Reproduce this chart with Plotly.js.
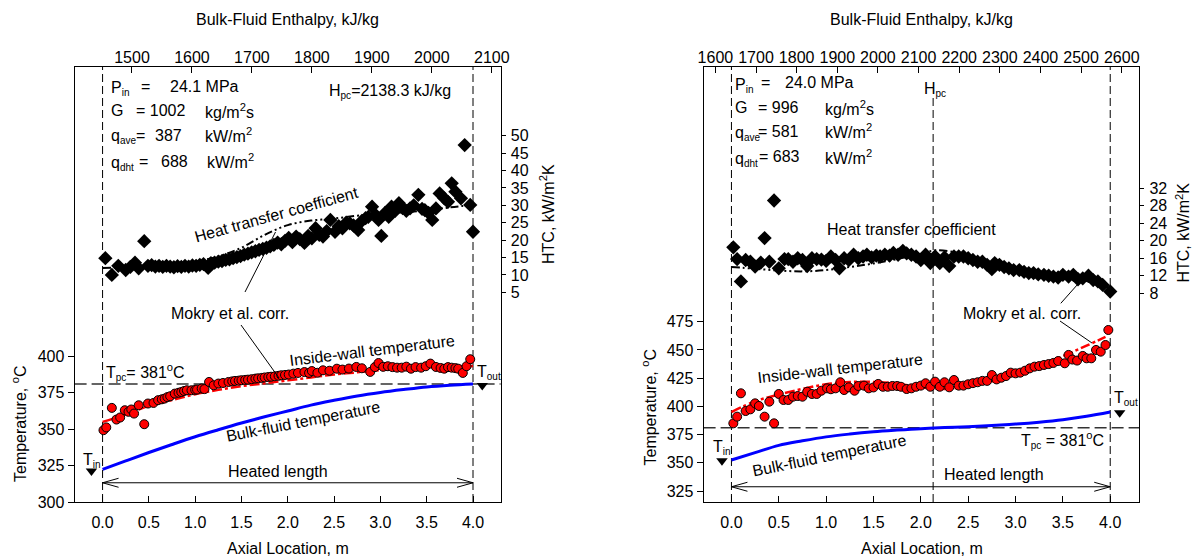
<!DOCTYPE html>
<html>
<head>
<meta charset="utf-8">
<script src="https://cdn.plot.ly/plotly-3.0.1.min.js"></script>
<style>html,body{margin:0;padding:0;background:#fff;}#chart{width:1197px;height:559px;}</style>
</head>
<body>
<div id="chart"></div>
<script>
// ---------------- DATA ----------------
// Left panel (P_in = 24.1 MPa, G = 1002)
const htcXL = [0.03,0.10,0.17,0.25,0.30,0.35,0.39,0.45,0.49,0.53,
  0.57,0.61,0.65,0.69,0.73,0.77,0.81,0.85,0.89,0.93,
  0.97,1.01,1.05,1.09,1.14,1.17,1.21,1.25,1.29,1.33,
  1.37,1.41,1.45,1.49,1.53,1.57,1.61,1.65,1.69,1.73,
  1.77,1.81,1.85,1.89,1.93,1.97,2.01,2.05,2.09,2.13,
  2.18,2.22,2.26,2.30,2.34,2.38,2.42,2.46,2.51,2.55,
  2.59,2.63,2.67,2.71,2.76,2.80,2.84,2.87,2.91,2.95,
  2.98,3.01,3.05,3.09,3.12,3.16,3.20,3.24,3.28,3.32,
  3.36,3.41,3.45,3.48,3.52,3.56,3.60,3.64,3.69,3.73,
  3.77,3.81,3.87,3.91,3.97,4.00];
const htcL = [14.8,10.0,12.6,11.4,12.3,13.5,11.9,19.7,12.6,12.8,
  12.4,12.6,12.3,12.6,12.4,12.2,12.5,12.3,12.6,12.4,
  12.7,12.6,12.9,13.1,12.0,13.4,13.5,13.8,14.0,14.3,
  14.5,14.8,15.1,15.4,15.8,16.1,16.5,16.8,17.2,17.5,
  17.8,18.2,18.6,19.3,18.8,19.8,20.6,19.4,21.0,20.3,
  19.2,21.2,20.5,23.4,21.5,21.0,22.6,25.8,22.4,24.0,
  23.4,25.0,24.8,24.2,22.9,25.5,26.3,26.7,29.6,27.2,
  25.8,21.2,27.8,26.7,29.6,28.4,30.6,29.2,28.4,29.1,
  30.0,33.0,29.0,28.6,27.8,25.8,29.1,33.4,32.0,31.0,
  36.3,33.9,32.0,47.3,30.1,22.4];
const wallXL = [0.01,0.04,0.10,0.15,0.19,0.24,0.28,0.31,0.34,0.39,
  0.45,0.49,0.55,0.60,0.64,0.67,0.70,0.73,0.78,0.82,
  0.85,0.88,0.91,0.96,1.00,1.02,1.07,1.10,1.15,1.20,
  1.25,1.30,1.36,1.40,1.43,1.47,1.50,1.54,1.57,1.61,
  1.65,1.68,1.72,1.75,1.79,1.82,1.86,1.90,1.93,1.97,
  2.01,2.06,2.11,2.18,2.23,2.26,2.32,2.38,2.45,2.53,
  2.59,2.66,2.74,2.80,2.89,2.94,2.98,3.03,3.08,3.13,
  3.18,3.23,3.28,3.33,3.38,3.44,3.49,3.54,3.60,3.65,
  3.69,3.73,3.77,3.81,3.84,3.89,3.93,3.97];
const wallL = [349.3,351.2,364.6,356.6,358.0,363.0,361.9,363.5,360.7,366.4,
  353.4,367.6,368.0,369.9,370.5,371.0,372.0,372.6,374.4,375.0,
  375.5,376.2,376.7,376.7,377.0,377.2,377.9,377.5,382.4,380.1,
  381.3,381.7,382.4,382.8,383.1,383.3,383.6,383.8,384.0,384.3,
  384.7,384.9,385.2,385.5,385.8,386.0,386.3,386.6,387.0,387.2,
  387.5,388.1,388.6,389.2,388.6,389.9,388.7,390.4,390.1,391.5,
  390.9,391.6,392.7,391.8,389.3,392.6,395.4,392.8,393.2,392.6,
  392.2,392.2,392.9,391.5,392.6,392.2,393.2,395.0,392.7,392.0,
  391.5,392.6,392.2,391.9,391.5,388.6,393.2,398.0];
const curveXL = [0,0.25,0.5,0.75,1.0,1.25,1.5,1.75,2.0,2.25,2.5,2.75,3.0,3.25,3.5,3.75,4.0];
const bulkL = [322.4,328.2,334.0,339.5,344.8,349.6,354.2,358.5,362.5,366.5,369.8,372.8,375.2,377.2,379.0,380.2,381.0];
const mokryWallL = [355,360,366,370,374,377,379.5,381.5,383.5,385.5,387.5,389,390.5,391.5,392.2,392.8,393.3];
const mokryHtcL = [12.0,12.2,12.5,13.0,13.8,15.3,17.8,21.5,24.3,25.6,26.2,27.0,27.6,28.0,28.5,29.4,30.1];
const inletL = {x:[-0.12], T:[321.2]};
const outletL = {x:[4.10], T:[379.9]};
const enthalpyL = [1451, 2069];           // bulk-fluid enthalpy at inlet / outlet
const enthTicksL = [1500,1600,1700,1800,1900,2000,2100];
const tempTicksL = [300,325,350,375,400];
const htcTicksL = [5,10,15,20,25,30,35,40,45,50];

// Right panel (P_in = 24.0 MPa, G = 996)
const htcXR = [0.02,0.06,0.10,0.15,0.20,0.25,0.31,0.35,0.40,0.45,
  0.50,0.56,0.60,0.65,0.70,0.75,0.80,0.85,0.90,0.95,
  1.00,1.05,1.10,1.14,1.19,1.24,1.29,1.34,1.39,1.43,
  1.48,1.53,1.57,1.62,1.67,1.71,1.76,1.81,1.85,1.90,
  1.95,2.00,2.05,2.10,2.15,2.20,2.25,2.30,2.35,2.40,
  2.45,2.50,2.55,2.60,2.65,2.70,2.75,2.78,2.83,2.88,
  2.93,2.98,3.04,3.09,3.14,3.19,3.24,3.30,3.35,3.40,
  3.45,3.50,3.56,3.61,3.66,3.71,3.77,3.82,3.87,3.92,
  4.00];
const htcR = [18.5,15.8,10.7,15.6,15.2,14.1,15.0,20.6,15.2,29.2,
  13.7,15.8,15.8,15.2,16.0,15.6,14.2,16.0,15.8,15.7,
  15.4,16.4,15.6,13.7,16.0,15.6,16.8,16.0,16.4,16.8,
  16.2,16.6,16.4,16.8,16.6,17.2,16.8,17.7,17.1,16.8,
  16.4,15.6,16.8,14.9,16.4,14.9,16.2,14.2,16.4,16.4,
  16.4,16.0,15.6,15.2,15.2,14.5,13.5,14.9,14.5,14.0,
  13.7,13.3,13.3,12.9,12.6,12.6,12.3,12.2,12.0,11.8,
  11.6,12.2,11.8,12.2,11.2,11.4,12.0,11.0,10.7,9.9,
  8.4];
const wallXR = [0.02,0.06,0.10,0.15,0.20,0.25,0.29,0.35,0.40,0.45,
  0.50,0.55,0.60,0.65,0.70,0.75,0.80,0.85,0.90,0.95,
  1.01,1.05,1.10,1.15,1.19,1.24,1.30,1.34,1.40,1.45,
  1.50,1.55,1.60,1.65,1.70,1.75,1.79,1.85,1.90,1.95,
  2.00,2.05,2.10,2.15,2.20,2.25,2.30,2.35,2.40,2.45,
  2.50,2.55,2.60,2.65,2.70,2.75,2.80,2.85,2.90,2.95,
  3.00,3.05,3.10,3.15,3.20,3.25,3.30,3.35,3.40,3.45,
  3.52,3.56,3.60,3.65,3.71,3.75,3.80,3.85,3.90,3.95,
  3.98];
const wallR = [385.0,390.9,411.6,395.9,397.4,402.7,400.4,390.9,404.2,385.0,
  411.0,405.7,405.7,408.6,409.2,408.6,413.0,411.0,411.0,413.9,
  416.0,415.2,416.0,421.4,414.5,416.9,413.9,418.1,418.4,416.0,
  416.8,419.9,417.4,417.4,418.1,418.1,417.4,415.4,416.0,417.4,
  418.4,420.5,417.4,421.9,417.4,421.4,416.9,423.4,418.4,418.4,
  419.6,420.6,421.4,422.6,422.6,427.8,423.9,425.4,426.9,429.9,
  429.3,429.9,431.6,433.7,435.2,435.7,436.7,437.5,438.5,440.2,
  438.2,445.6,441.5,440.6,444.7,442.6,442.6,450.0,448.5,454.4,
  467.7];
const curveXR = [0,0.25,0.5,0.75,1.0,1.25,1.5,1.75,2.0,2.25,2.5,2.75,3.0,3.25,3.5,3.75,4.0];
const bulkR = [352.5,359.0,365.5,369.5,373.0,375.5,377.5,379.0,380.3,381.2,382.0,383.0,384.3,386.0,388.2,391.2,395.0];
const mokryWallXR = [0,0.25,0.5,0.75,1.0,1.25,1.5,1.75,2.0,2.25,2.5,2.75,3.0,3.25,3.5,3.75,3.95];
const mokryWallR = [395,404.5,410.5,415.5,419.6,421.6,421.7,420.2,416.8,415.4,418,422,428,436,444.5,453.8,461.5];
const mokryHtcXR = [0,0.25,0.5,0.75,1.0,1.25,1.5,1.75,2.0,2.15,2.4,2.6,2.8,3.0,3.25,3.5,3.75,4.0];
const mokryHtcR = [14.0,13.6,13.2,13.0,13.3,14.0,14.8,15.8,17.0,17.8,17.2,16.0,14.8,13.9,13.0,12.0,10.8,9.2];
const inletR = {x:[-0.10], T:[351.9]};
const outletR = {x:[4.10], T:[394.4]};
const enthalpyR = [1639, 2572];
const enthTicksR = [1600,1700,1800,1900,2000,2100,2200,2300,2400,2500,2600];
const tempTicksR = [325,350,375,400,425,450,475];
const htcTicksR = [8,12,16,20,24,28,32];

const axialTicks = [0,0.5,1.0,1.5,2.0,2.5,3.0,3.5,4.0];
const heatedStart = 0, heatedEnd = 4.0;
const Tpc = 381;
const HpcAxialR = 2.13;
const arrowTL = 313.2, arrowTR = 328.8;

// ---------------- FIGURE ----------------
const W = 1197, H = 559;
const FONT = 'Liberation Sans, Arial, sans-serif';
const px = x => x / W;
const py = y => 1 - y / H;
const sub = s => '<sub><span style="font-size:10px">' + s + '</span></sub>';

function ann(x, y, text, o) {
  return Object.assign({xref:'paper', yref:'paper', x:px(x), y:py(y), text:text, showarrow:false,
    xanchor:'left', yanchor:'middle', font:{size:16, color:'#000', family:FONT}}, o || {});
}
function seg(x0, y0, x1, y1) {
  return {type:'line', xref:'paper', yref:'paper', x0:px(x0), y0:py(y0), x1:px(x1), y1:py(y1),
    line:{color:'#000', width:1}};
}
function baseAxis(o) {
  return Object.assign({showgrid:false, zeroline:false, color:'#000',
    tickfont:{size:16, color:'#000', family:FONT}, tickcolor:'#000', linecolor:'#000', linewidth:1,
    tickmode:'array'}, o);
}

const domY = [py(502), py(67)];
const domXL = [px(74.6), px(500.6)];
const domXR = [px(703.6), px(1139.2)];

const dotLine = {color:'#000', width:2, dash:'8px,3px,2px,3px,2px,3px'};
const redDash = {color:'#ff0000', width:2.5, dash:'10px,3px,3px,3px'};

function panelTraces(xa, xe, yt, yh, d) {
  return [
    {x:d.enth, y:[d.bulk[0], d.bulk[d.bulk.length-1]], xaxis:xe, yaxis:yt, mode:'lines',
      line:{width:0, color:'rgba(0,0,0,0)'}, hoverinfo:'skip', showlegend:false},
    {x:d.bulkX, y:d.bulk, xaxis:xa, yaxis:yt, mode:'lines', line:{color:'#0000ff', width:3, shape:'spline'}},
    {x:d.mwX, y:d.mw, xaxis:xa, yaxis:yt, mode:'lines', line:Object.assign({shape:'spline'}, redDash)},
    {x:d.wallX, y:d.wall, xaxis:xa, yaxis:yt, mode:'markers',
      marker:{symbol:'circle', size:9, color:'#ff0000', line:{color:'#000', width:1}}},
    {x:d.inX, y:d.inT, xaxis:xa, yaxis:yt, mode:'markers', marker:{symbol:'triangle-down', size:10, color:'#000'}},
    {x:d.outX, y:d.outT, xaxis:xa, yaxis:yt, mode:'markers', marker:{symbol:'triangle-down', size:10, color:'#000'}},
    {x:d.mhX, y:d.mh, xaxis:xa, yaxis:yh, mode:'lines', line:Object.assign({shape:'spline'}, dotLine)},
    {x:d.htcX, y:d.htc, xaxis:xa, yaxis:yh, mode:'markers', marker:{symbol:'diamond', size:11, color:'#000'}}
  ];
}

const traces = [].concat(
  panelTraces('x','x2','y','y2', {enth:enthalpyL, bulkX:curveXL, bulk:bulkL, mwX:curveXL, mw:mokryWallL,
    wallX:wallXL, wall:wallL, inX:inletL.x, inT:inletL.T, outX:outletL.x, outT:outletL.T,
    mhX:curveXL, mh:mokryHtcL, htcX:htcXL, htc:htcL}),
  panelTraces('x3','x4','y3','y4', {enth:enthalpyR, bulkX:curveXR, bulk:bulkR, mwX:mokryWallXR, mw:mokryWallR,
    wallX:wallXR, wall:wallR, inX:inletR.x, inT:inletR.T, outX:outletR.x, outT:outletR.T,
    mhX:mokryHtcXR, mh:mokryHtcR, htcX:htcXR, htc:htcR})
);

const vdash = {color:'#000', width:1, dash:'8px,4px'};
const hdash = {color:'#333', width:1.5, dash:'12px,5px'};
function vline(xref, yref, x, top) {
  return {type:'line', xref:xref, yref:yref + ' domain', x0:x, x1:x, y0:0, y1:top, line:vdash, layer:'below'};
}
function arrowShapes(xref, yref, yv) {
  return [
    {type:'line', xref:xref, yref:yref, x0:heatedStart, x1:heatedEnd, y0:yv, y1:yv, line:{color:'#000', width:1}},
    {type:'path', xref:xref, yref:yref, xsizemode:'pixel', ysizemode:'pixel', xanchor:heatedStart, yanchor:yv,
      path:'M16,4.5 L0,0 L16,-4.5', line:{color:'#000', width:1}},
    {type:'path', xref:xref, yref:yref, xsizemode:'pixel', ysizemode:'pixel', xanchor:heatedEnd, yanchor:yv,
      path:'M-16,4.5 L0,0 L-16,-4.5', line:{color:'#000', width:1}}
  ];
}

const shapes = [
  vline('x','y',heatedStart,1), vline('x','y',heatedEnd,1),
  vline('x3','y3',heatedStart,1), vline('x3','y3',heatedEnd,1), vline('x3','y3',HpcAxialR,0.929),
  {type:'line', xref:'x domain', yref:'y', x0:0, x1:1, y0:Tpc, y1:Tpc, line:hdash, layer:'below'},
  {type:'line', xref:'x3 domain', yref:'y3', x0:0, x1:1, y0:Tpc, y1:Tpc, line:hdash, layer:'below'}
].concat(arrowShapes('x','y',arrowTL), arrowShapes('x3','y3',arrowTR), [
  seg(245, 292, 275.5, 232), seg(241, 325, 279, 378),
  seg(1060.8, 303.3, 1080, 281.7), seg(1060, 321, 1092, 343)
]);

const annotations = [
  // titles
  ann(287, 19, 'Bulk-Fluid Enthalpy, kJ/kg', {xanchor:'center'}),
  ann(921.8, 19, 'Bulk-Fluid Enthalpy, kJ/kg', {xanchor:'center'}),
  ann(287.5, 548, 'Axial Location, m', {xanchor:'center'}),
  ann(921.8, 548, 'Axial Location, m', {xanchor:'center'}),
  ann(19, 424, 'Temperature, <sup>o</sup>C', {xanchor:'center', textangle:-90}),
  ann(649.5, 407, 'Temperature, <sup>o</sup>C', {xanchor:'center', textangle:-90}),
  ann(547, 214, 'HTC, kW/m<sup>2</sup>K', {xanchor:'center', textangle:-90}),
  ann(1182.6, 233, 'HTC, kW/m<sup>2</sup>K', {xanchor:'center', textangle:-90}),
  // left parameters
  ann(109, 88, 'P' + sub('in')), ann(139, 86, '='), ann(168.4, 86, '24.1 MPa'),
  ann(109, 111, 'G'), ann(133.9, 111, '= 1002'), ann(202.8, 111, 'kg/m<sup>2</sup>s'),
  ann(109, 137, 'q' + sub('ave')), ann(134, 135, '='), ann(153, 135, '387'), ann(202.8, 135, 'kW/m<sup>2</sup>'),
  ann(109, 163, 'q' + sub('dht')), ann(137, 161, '='), ann(158.8, 161, '688'), ann(204.7, 161, 'kW/m<sup>2</sup>'),
  ann(327.2, 92, 'H' + sub('pc') + '=2138.3 kJ/kg'),
  // right parameters
  ann(733.3, 85, 'P' + sub('in')), ann(759.2, 83, '='), ann(782.8, 83, '24.0 MPa'),
  ann(733.3, 108, 'G'), ann(756.1, 108, '= 996'), ann(822.8, 108, 'kg/m<sup>2</sup>s'),
  ann(733.3, 133, 'q' + sub('ave')), ann(756, 131, '= 581'), ann(822.8, 131, 'kW/m<sup>2</sup>'),
  ann(733.3, 159, 'q' + sub('dht')), ann(757, 157, '= 683'), ann(822.8, 157, 'kW/m<sup>2</sup>'),
  ann(921.8, 90, 'H' + sub('pc')),
  // left labels
  ann(276.7, 215, 'Heat transfer coefficient', {xanchor:'center', textangle:-15.5}),
  ann(229.6, 313, 'Mokry et al. corr.', {xanchor:'center'}),
  ann(372, 350.7, 'Inside-wall temperature', {xanchor:'center', textangle:-7}),
  ann(303, 422, 'Bulk-fluid temperature', {xanchor:'center', textangle:-11}),
  ann(278, 471, 'Heated length', {xanchor:'center'}),
  ann(104, 372, 'T' + sub('pc') + '= 381<sup>o</sup>C'),
  ann(474.5, 372, 'T' + sub('out')),
  ann(92, 460, 'T' + sub('in'), {xanchor:'center'}),
  // right labels
  ann(911, 229.3, 'Heat transfer coefficient', {xanchor:'center'}),
  ann(1021.7, 313, 'Mokry et al. corr.', {xanchor:'center'}),
  ann(839.9, 368.3, 'Inside-wall temperature', {xanchor:'center', textangle:-6.5}),
  ann(829.2, 455, 'Bulk-fluid temperature', {xanchor:'center', textangle:-11.6}),
  ann(1062, 440, 'T' + sub('pc') + ' = 381<sup>o</sup>C', {xanchor:'center'}),
  ann(1112, 398, 'T' + sub('out')),
  ann(721.5, 447, 'T' + sub('in'), {xanchor:'center'}),
  ann(994.1, 474.3, 'Heated length', {xanchor:'center'})
];

const layout = {
  width: W, height: H,
  margin: {l:0, r:0, t:0, b:0, pad:0},
  paper_bgcolor: '#fff', plot_bgcolor: 'rgba(0,0,0,0)',
  showlegend: false,
  font: {family: FONT, size: 16, color: '#000'},
  xaxis: baseAxis({domain:domXL, anchor:'y', range:[-0.302, 4.298], tickvals:axialTicks,
    ticktext:axialTicks.map(v => v.toFixed(1)), ticks:'inside', ticklen:6, showline:true, mirror:true, ticklabelstandoff:6}),
  xaxis2: baseAxis({overlaying:'x', side:'top', anchor:'y', range:[1404.3, 2114.7], tickvals:enthTicksL,
    ticks:'inside', ticklen:6, showline:false}),
  yaxis: baseAxis({domain:domY, anchor:'x', range:[300, 598.6], tickvals:tempTicksL,
    ticks:'outside', ticklen:6, showline:true, mirror:true}),
  yaxis2: baseAxis({overlaying:'y', side:'right', anchor:'x', range:[-55.26, 69.74], tickvals:htcTicksL,
    ticks:'outside', ticklen:4, showline:false, ticklabelstandoff:2}),
  xaxis3: baseAxis({domain:domXR, anchor:'y3', range:[-0.294, 4.306], tickvals:axialTicks,
    ticktext:axialTicks.map(v => v.toFixed(1)), ticks:'inside', ticklen:6, showline:true, mirror:true, ticklabelstandoff:6}),
  xaxis4: baseAxis({overlaying:'x3', side:'top', anchor:'y3', range:[1571, 2643], tickvals:enthTicksR,
    ticks:'inside', ticklen:6, showline:false}),
  yaxis3: baseAxis({domain:domY, anchor:'x3', range:[315.3, 700.7], tickvals:tempTicksR,
    ticks:'outside', ticklen:6, showline:true, mirror:true}),
  yaxis4: baseAxis({overlaying:'y3', side:'right', anchor:'x3', range:[-39.7, 59.7], tickvals:htcTicksR,
    ticks:'outside', ticklen:4, showline:false, ticklabelstandoff:2}),
  shapes: shapes,
  annotations: annotations
};

Plotly.newPlot('chart', traces, layout, {staticPlot:true, displayModeBar:false});
</script>
</body>
</html>
